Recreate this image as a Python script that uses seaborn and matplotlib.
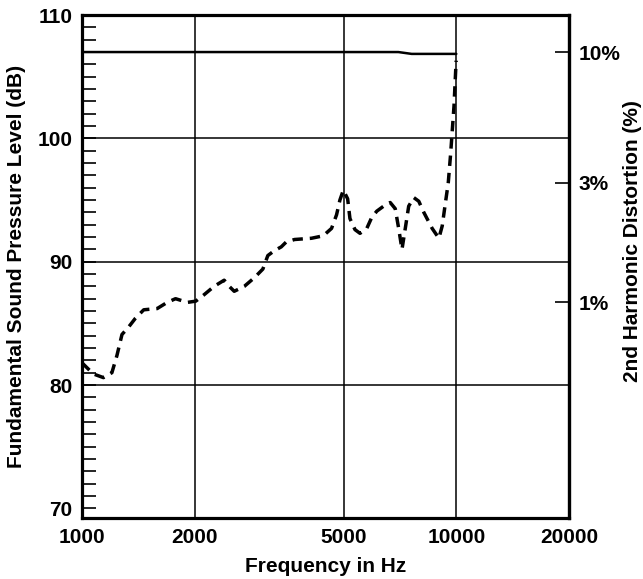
import numpy as np
import pandas as pd
import seaborn as sns
import matplotlib.pyplot as plt
from matplotlib.ticker import FixedLocator, MultipleLocator, NullLocator

# fundamental level (solid line)
fund_freq = [1000, 3000, 7000, 7600, 10000]
fund_db = [107.0, 107.0, 107.0, 106.85, 106.85]

# 2nd harmonic distortion, read in dB on the left scale (dashed line)
dist_freq = [1000, 1072, 1141, 1202, 1240, 1279, 1332, 1388, 1462, 1588, 1689, 1778,
             1912, 2013, 2115, 2254, 2398, 2474, 2551, 2714, 2887, 3042, 3137, 3268,
             3406, 3513, 3698, 4102, 4411, 4642, 4787, 4887, 4991, 5125, 5198, 5362,
             5530, 5766, 5946, 6133, 6392, 6659, 6868, 7015, 7159, 7306, 7461, 7697,
             7939, 8188, 8619, 8983, 9170, 9325, 9517, 9654, 9858, 9990]
dist_db = [81.8, 80.9, 80.6, 81.0, 82.4, 84.1, 84.7, 85.4, 86.1, 86.2, 86.7, 87.0,
           86.7, 86.8, 87.3, 88.0, 88.5, 88.0, 87.6, 88.0, 88.7, 89.4, 90.5, 90.9,
           91.2, 91.6, 91.8, 91.9, 92.1, 92.7, 93.8, 95.0, 95.8, 95.1, 93.5, 92.6,
           92.3, 92.7, 93.6, 94.1, 94.5, 94.8, 94.3, 92.7, 91.0, 92.7, 94.5, 95.2,
           94.9, 94.0, 92.7, 91.9, 92.9, 94.5, 96.4, 98.7, 102.6, 106.3]

x_ticks = [1000, 2000, 5000, 10000, 20000]
y_ticks = [70, 80, 90, 100, 110]
pct_ticks = [1, 3, 10]
pct_labels = ['1%', '3%', '10%']

fund = pd.DataFrame({'freq': fund_freq, 'db': fund_db})
dist = pd.DataFrame({'freq': dist_freq, 'db': dist_db})

sns.set_style('white')
plt.rcParams['font.family'] = ['Liberation Sans', 'DejaVu Sans']
plt.rcParams['font.weight'] = 'bold'
plt.rcParams['text.color'] = 'black'
plt.rcParams['axes.labelcolor'] = 'black'
plt.rcParams['xtick.color'] = 'black'
plt.rcParams['ytick.color'] = 'black'

fs = 15

fig = plt.figure(figsize=(6.43, 5.79), dpi=100)
ax = fig.add_axes([0.1275, 0.105, 0.7574, 0.869])

sns.lineplot(data=fund, x='freq', y='db', ax=ax, color='black', lw=1.8, estimator=None)
sns.lineplot(data=dist, x='freq', y='db', ax=ax, color='black', lw=2.5,
             dashes=False, estimator=None, linestyle=(0, (3, 2)))

ax.set_xscale('log')
ax.set_xlim(1000, 20000)
ax.set_ylim(69.2, 110)

# grid
for xv in [2000, 5000, 10000]:
    ax.axvline(xv, color='black', lw=1.1, zorder=1)
for yv in [80, 90, 100]:
    ax.axhline(yv, color='black', lw=1.1, zorder=1)

ax.xaxis.set_major_locator(FixedLocator(x_ticks))
ax.xaxis.set_minor_locator(NullLocator())
ax.set_xticklabels([str(v) for v in x_ticks], fontsize=fs, fontweight='bold')
ax.tick_params(axis='x', which='both', length=0, pad=7)

ax.yaxis.set_major_locator(FixedLocator(y_ticks))
ax.yaxis.set_minor_locator(MultipleLocator(1))
ax.set_yticklabels([str(v) for v in y_ticks], fontsize=fs, fontweight='bold')
ax.tick_params(axis='y', which='both', direction='in', length=10, width=1.2,
               left=True, pad=7, color='black')

for s in ax.spines.values():
    s.set_color('black')
    s.set_linewidth(2.3)

ax.set_xlabel('Frequency in Hz', fontsize=fs, fontweight='bold', labelpad=7)
ax.set_ylabel('Fundamental Sound Pressure Level (dB)', fontsize=fs, fontweight='bold', labelpad=8)

# right axis: distortion in %, about 20 dB per decade, 10% at 107 dB
def db_to_pct(d):
    return 10 * 10 ** ((np.asarray(d) - 107) / 20.3)

def pct_to_db(p):
    return 107 + 20.3 * np.log10(np.clip(np.asarray(p, dtype=float), 1e-9, None) / 10)

sec = ax.secondary_yaxis('right', functions=(db_to_pct, pct_to_db))
sec.yaxis.set_major_locator(FixedLocator(pct_ticks))
sec.yaxis.set_minor_locator(NullLocator())
sec.set_yticklabels(pct_labels, fontsize=fs, fontweight='bold')
sec.tick_params(axis='y', direction='in', length=10, width=1.2, pad=7, color='black')
sec.spines['right'].set_linewidth(2.3)
sec.set_ylabel('2nd Harmonic Distortion (%)', fontsize=fs, fontweight='bold')
sec.yaxis.set_label_coords(1.11, 0.55, transform=ax.transAxes)

fig.savefig('out.png', dpi=100, facecolor='white')
